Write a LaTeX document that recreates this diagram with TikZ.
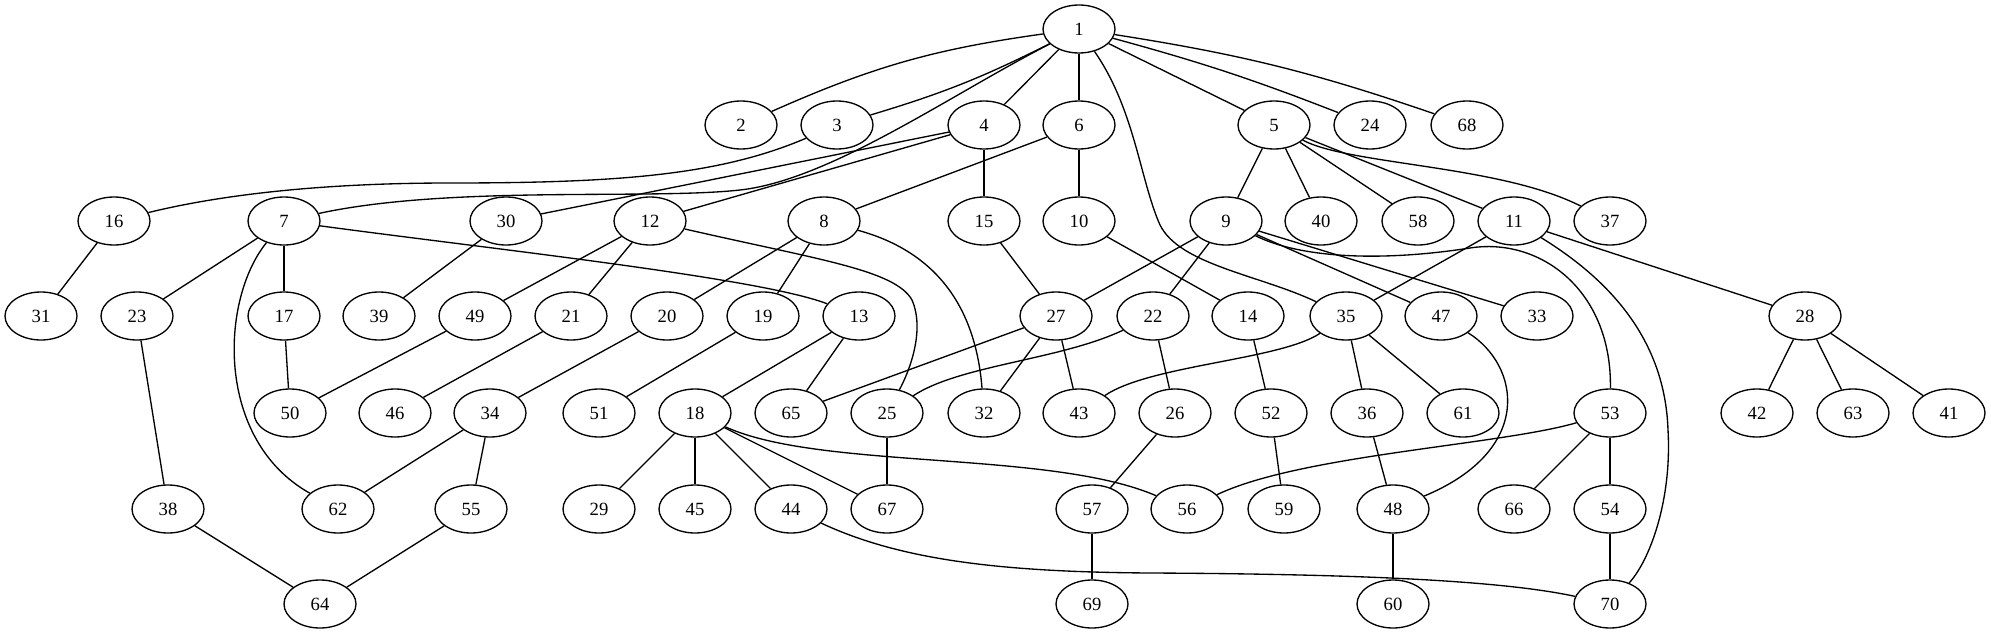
\documentclass[tikz,border=0pt]{standalone}
\usepackage{fontspec}
\setmainfont{Liberation Serif}
\usetikzlibrary{shapes.geometric}
\tikzset{
  nd/.style={ellipse, draw, line width=1pt, minimum width=54pt, minimum height=36pt, inner sep=0pt, font=\fontsize{14}{16}\selectfont},
  ed/.style={line width=1pt}
}
\begin{document}
\begin{tikzpicture}[x=0.75pt,y=-0.75pt]
\useasboundingbox (0,0) rectangle (1991,635);
\node[nd] (n1) at (1079,29) {1};
\foreach \n/\x in {2/741,3/837,4/984,6/1079,5/1274,24/1370,68/1467}
  \node[nd] (n\n) at (\x,125) {\n};
\foreach \n/\x in {16/114,7/284,30/506,12/650,8/824,15/984,10/1079,9/1226,40/1321,58/1418,11/1514,37/1610}
  \node[nd] (n\n) at (\x,221) {\n};
\foreach \n/\x in {31/41,23/137,17/284,39/379,49/475,21/571,20/667,19/763,13/859,27/1056,22/1153,14/1248,35/1346,47/1441,33/1537,28/1805}
  \node[nd] (n\n) at (\x,316) {\n};
\foreach \n/\x in {50/290,46/395,34/490,51/599,18/695,65/791,25/887,32/984,43/1079,26/1175,52/1271,36/1367,61/1463,53/1610,42/1757,63/1853,41/1949}
  \node[nd] (n\n) at (\x,413) {\n};
\foreach \n/\x in {38/168,62/338,55/471,29/599,45/695,44/791,67/887,57/1092,56/1187,59/1284,48/1393,66/1514,54/1610}
  \node[nd] (n\n) at (\x,509) {\n};
\foreach \n/\x in {64/320,69/1092,60/1393,70/1610}
  \node[nd] (n\n) at (\x,604) {\n};
% straight edges
\foreach \a/\b in {1/4,1/6,1/5,4/30,4/12,4/15,6/8,6/10,5/9,5/40,5/58,5/11,16/31,7/23,7/17,30/39,12/49,12/21,8/20,8/19,15/27,10/14,9/27,9/22,9/47,9/33,11/35,11/28,23/38,17/50,49/50,21/46,20/34,19/51,13/18,13/65,27/65,27/32,27/43,22/26,14/52,35/36,35/61,28/42,28/63,28/41,34/62,34/55,18/29,18/45,18/44,18/67,25/67,26/57,52/59,36/48,53/66,53/54,38/64,55/64,57/69,48/60,54/70}
  \draw[ed] (n\a) -- (n\b);
% curved edges
\draw[ed] (n1) to[bend right=8] (n2);
\draw[ed] (n1) to[bend left=5] (n3);
\draw[ed] (n1) to[bend left=3] (n24);
\draw[ed] (n1) to[bend left=5] (n68);
\draw[ed] (n7) .. controls (500,250) and (760,278) .. (n13);
\draw[ed] (n1) .. controls (950,95) and (830,180) .. (740,190) .. controls (650,200) and (450,185) .. (n7);
\draw[ed] (n3) .. controls (720,175) and (620,183) .. (450,183) .. controls (320,183) and (220,195) .. (n16);
\draw[ed] (n12) .. controls (820,260) and (895,270) .. (912,300) .. controls (925,330) and (910,370) .. (n25);
\draw[ed] (n8) .. controls (930,250) and (975,300) .. (n32);
\draw[ed] (n1) .. controls (1135,110) and (1140,180) .. (1160,225) .. controls (1180,265) and (1260,275) .. (n35);
\draw[ed] (n9) .. controls (1300,258) and (1380,262) .. (1470,248) .. controls (1540,237) and (1612,290) .. (n53);
\draw[ed] (n11) .. controls (1610,280) and (1665,340) .. (1668,430) .. controls (1672,500) and (1650,560) .. (n70);
\draw[ed] (n5) .. controls (1350,165) and (1500,165) .. (n37);
\draw[ed] (n47) .. controls (1520,365) and (1535,450) .. (n48);
\draw[ed] (n53) .. controls (1500,445) and (1300,455) .. (n56);
\draw[ed] (n18) .. controls (820,470) and (1050,450) .. (n56);
\draw[ed] (n44) .. controls (900,560) and (1000,572) .. (1150,573) .. controls (1350,574) and (1500,580) .. (n70);
\draw[ed] (n7) .. controls (220,300) and (215,440) .. (n62);
\draw[ed] (n35) .. controls (1280,360) and (1150,365) .. (n43);
\draw[ed] (n22) .. controls (1060,360) and (960,365) .. (n25);
\end{tikzpicture}
\end{document}
